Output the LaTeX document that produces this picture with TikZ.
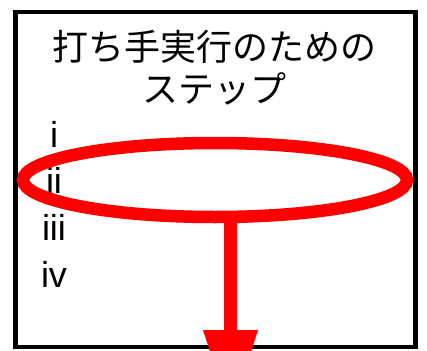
\documentclass[tikz,border=0pt]{standalone}
\usepackage{fontspec}
\setmainfont{Liberation Sans}
\newfontfamily\jp{Noto Sans CJK JP}
\usetikzlibrary{shapes.geometric}
\begin{document}
\begin{tikzpicture}[x=1pt,y=-1pt,
  titletext/.style={font=\jp\fontsize{36}{42}\selectfont, anchor=base, inner sep=0pt},
  steplabel/.style={font=\fontsize{36}{40}\selectfont, anchor=base, inner sep=0pt},
  ring/.style={ellipse, draw=red, line width=12.5pt, inner sep=0pt, minimum width=384pt, minimum height=74pt},
]
\useasboundingbox (0,0) rectangle (427,350);
\draw[line width=4.5pt] (15.5,12) rectangle (415.5,347);
\node[titletext] (t1) at (214.5,60.5) {打ち手実行のための};
\node[titletext] (t2) at (214.5,102.5) {ステップ};
\node[steplabel] (l1) at (54,147) {i};
\node[steplabel] (l2) at (54,193) {ii};
\node[steplabel] (l3) at (54,240) {iii};
\node[steplabel] (l4) at (54,287) {iv};
\node[ring] (ring) at (215,180) {};
\coordinate (shaftend) at (230.5,330.5);
\coordinate (headL) at (203,330);
\coordinate (headR) at (258,330);
\coordinate (tip) at (230.5,415);
\draw[red, line width=13pt] (ring.south -| shaftend) -- (shaftend);
\fill[red] (headL) -- (headR) -- (tip) -- cycle;
\end{tikzpicture}
\end{document}
